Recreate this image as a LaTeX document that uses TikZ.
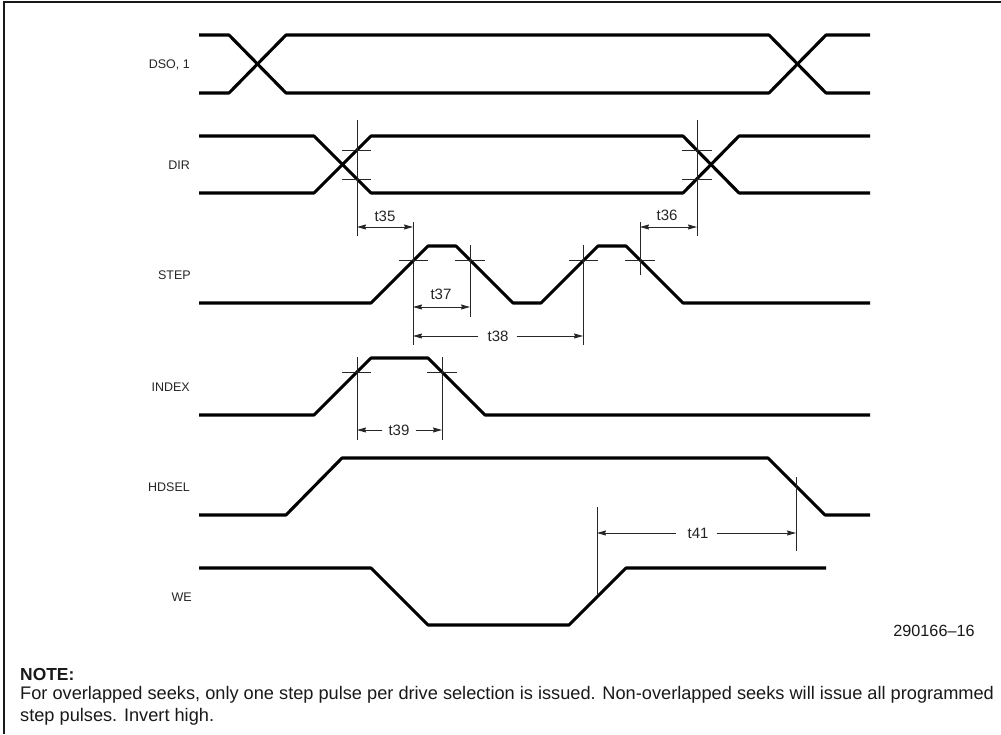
\documentclass[tikz,border=0pt]{standalone}
\usepackage{fontspec}
\setmainfont{Liberation Sans}
\usetikzlibrary{arrows.meta}
\tikzset{
 x=1pt,y=-1pt,
 wave/.style={line width=3.1pt,line join=round,black},
 thin line/.style={line width=1pt,black!85},
 frameline/.style={line width=1.6pt,black!90},
 dim/.style={line width=0.9pt,black!85,{Stealth[length=9pt,width=5pt,inset=1pt]}-{Stealth[length=9pt,width=5pt,inset=1pt]}},
 dimR/.style={line width=0.9pt,black!85,-{Stealth[length=9pt,width=5pt,inset=1pt]}},
 siglabel/.style={anchor=east,inner sep=0pt,font=\fontsize{12.5}{14}\selectfont,text=black!85},
 tlabel/.style={inner sep=0pt,font=\fontsize{15}{16}\selectfont,text=black!85},
 notetext/.style={anchor=west,inner sep=0pt,font=\fontsize{18.2}{21}\selectfont,text=black!90},
}
\begin{document}
\begin{tikzpicture}
\useasboundingbox (0,0) rectangle (1001,734);
\fill[white] (0,0) rectangle (1001,734);
\draw[frameline] (4,734) -- (4,2) -- (1001,2);

% vertical references
\coordinate (a) at (357,0); \coordinate (b) at (413,0); \coordinate (c) at (470,0);
\coordinate (d) at (583,0); \coordinate (e) at (640,0); \coordinate (f) at (697,0);
\coordinate (g) at (442,0); \coordinate (h) at (597,0); \coordinate (i) at (796,0);

% signal names
\node[siglabel] (lds) at (190,65) {DSO, 1};
\node[siglabel] (ldir) at (190,165) {DIR};
\node[siglabel] (lstep) at (191,275) {STEP};
\node[siglabel] (lindex) at (190,387) {INDEX};
\node[siglabel] (lhd) at (190,487) {HDSEL};
\node[siglabel] (lwe) at (192,597) {WE};

% DSO
\draw[wave] (199,35) -- (229,35) -- (286,93) -- (769,93) -- (826,35) -- (870,35);
\draw[wave] (199,93) -- (229,93) -- (286,35) -- (769,35) -- (826,93) -- (870,93);
% DIR
\draw[wave] (199,136) -- (314,136) -- (371,193) -- (683,193) -- (739,136) -- (870,136);
\draw[wave] (199,193) -- (314,193) -- (371,136) -- (683,136) -- (739,193) -- (870,193);
% STEP
\draw[wave] (199,303) -- (371,303) -- (428,246) -- (456,246) -- (513,303) -- (541,303) -- (598,246) -- (626,246) -- (683,303) -- (870,303);
% INDEX
\draw[wave] (199,415) -- (314,415) -- (371,358) -- (428,358) -- (485,415) -- (870,415);
% HDSEL
\draw[wave] (199,515) -- (286,515) -- (342,458) -- (768,458) -- (825,515) -- (870,515);
% WE
\draw[wave] (199,568) -- (371,568) -- (428,625) -- (569,625) -- (626,568) -- (826,568);

% DIR marks
\draw[thin line] (a |- 0,120) -- (a |- 0,236);
\draw[thin line] (f |- 0,120) -- (f |- 0,236);
\draw[thin line] (342,150.7) -- (371,150.7) (342,179) -- (371,179);
\draw[thin line] (682,150.7) -- (712,150.7) (682,179) -- (712,179);
% STEP marks
\draw[thin line] (b |- 0,222) -- (b |- 0,345);
\draw[thin line] (c |- 0,245) -- (c |- 0,317);
\draw[thin line] (d |- 0,245) -- (d |- 0,345);
\draw[thin line] (e |- 0,222) -- (e |- 0,275);
\draw[thin line] (399,260) -- (428,260) (455,260) -- (485,260) (569,260) -- (598,260) (625,260) -- (655,260);
% INDEX marks
\draw[thin line] (a |- 0,357) -- (a |- 0,440);
\draw[thin line] (g |- 0,357) -- (g |- 0,440);
\draw[thin line] (342,372) -- (371,372) (427,372) -- (457,372);
% HDSEL / WE marks
\draw[thin line] (i |- 0,477) -- (i |- 0,551);
\draw[thin line] (h |- 0,507) -- (h |- 0,594);

% dimension labels and arrows
\node[tlabel] (t35) at (385,216) {t35};
\draw[dim] (a |- 0,227) -- (b |- 0,227);
\node[tlabel] (t36) at (667,215) {t36};
\draw[dim] (e |- 0,227) -- (f |- 0,227);
\node[tlabel] (t37) at (441,294) {t37};
\draw[dim] (b |- 0,307) -- (c |- 0,307);
\node[tlabel] (t38) at (498,336) {t38};
\draw[dimR] (t38.west) ++(-9,0) -- (b |- t38);
\draw[dimR] (t38.east) ++(8,0) -- (d |- t38);
\node[tlabel] (t39) at (399,430) {t39};
\draw[dimR] (t39.west) ++(-6,0) -- (a |- t39);
\draw[dimR] (t39.east) ++(6,0) -- (g |- t39);
\node[tlabel] (t41) at (698,533) {t41};
\draw[dimR] (t41.west) ++(-11,0) -- (h |- t41);
\draw[dimR] (t41.east) ++(8,0) -- (i |- t41);

\node[inner sep=0pt,font=\fontsize{16.2}{18}\selectfont,text=black!90] (fig) at (934,631) {290166–16};

\node[notetext,font=\fontsize{17.4}{21}\selectfont\bfseries] (note) at (20,674) {NOTE:};
\node[notetext] (n1) at (20,695) {For overlapped seeks, only one step pulse per drive selection is issued. Non-overlapped seeks will issue all programmed};
\node[notetext] (n2) at (20,717) {step pulses. Invert high.};
\end{tikzpicture}
\end{document}
